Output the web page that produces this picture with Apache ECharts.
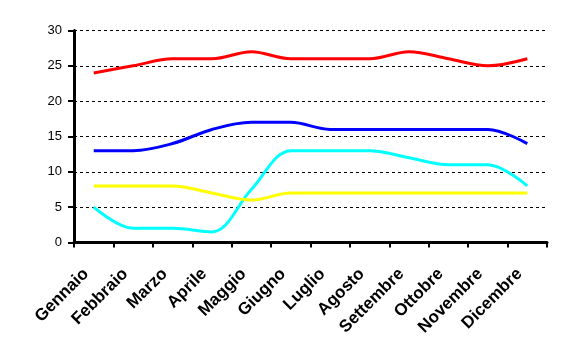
<!DOCTYPE html>
<html><head><meta charset="utf-8">
<script src="https://cdn.jsdelivr.net/npm/echarts@6/dist/echarts.min.js"></script>
<style>html,body{margin:0;padding:0;background:#fff}#c{width:563px;height:362px}</style>
</head><body><div id="c"></div>
<script>
const categories = ['Gennaio','Febbraio','Marzo','Aprile','Maggio','Giugno','Luglio','Agosto','Settembre','Ottobre','Novembre','Dicembre'];
const redValues = [24,25,26,26,27,26,26,26,27,26,25,26];
const blueValues = [13,13,14,16,17,17,16,16,16,16,16,14];
const cyanValues = [5,2,2,1.5,7.5,13,13,13,12,11,11,8];
const yellowValues = [8,8,8,7,6,7,7,7,7,7,7,7];
const yTicks = [0,5,10,15,20,25,30];

const chart = echarts.init(document.getElementById('c'));
function s(data, color){
  return {type:'line', data, smooth:0.35, symbol:'none', lineStyle:{color, width:3}, itemStyle:{color}};
}
chart.setOption({
  animation:false,
  backgroundColor:'#fff',
  grid:{left:74, right:16, top:30.5, bottom:119.5},
  xAxis:{type:'category', data:categories, boundaryGap:true,
    axisLine:{lineStyle:{color:'#000', width:3}},
    axisTick:{show:true, length:5, lineStyle:{color:'#000', width:2}},
    axisLabel:{rotate:45, interval:0, margin:21, padding:[0,11,0,0], color:'#000', fontFamily:'Liberation Sans, Arial', fontWeight:'bold', fontSize:17}
  },
  yAxis:{type:'value', min:yTicks[0], max:yTicks[yTicks.length-1], interval:5,
    axisLine:{show:true, lineStyle:{color:'#000', width:3}},
    axisTick:{show:true, length:6, lineStyle:{color:'#000', width:2}},
    axisLabel:{color:'#000', fontFamily:'Liberation Sans, Arial', fontSize:13, margin:12},
    splitLine:{show:true, lineStyle:{color:'#000', type:[3,3], width:1}}
  },
  series:[s(redValues,'#ff0000'), s(blueValues,'#0000ff'), s(cyanValues,'#00ffff'), s(yellowValues,'#ffff00')]
});
</script></body></html>
